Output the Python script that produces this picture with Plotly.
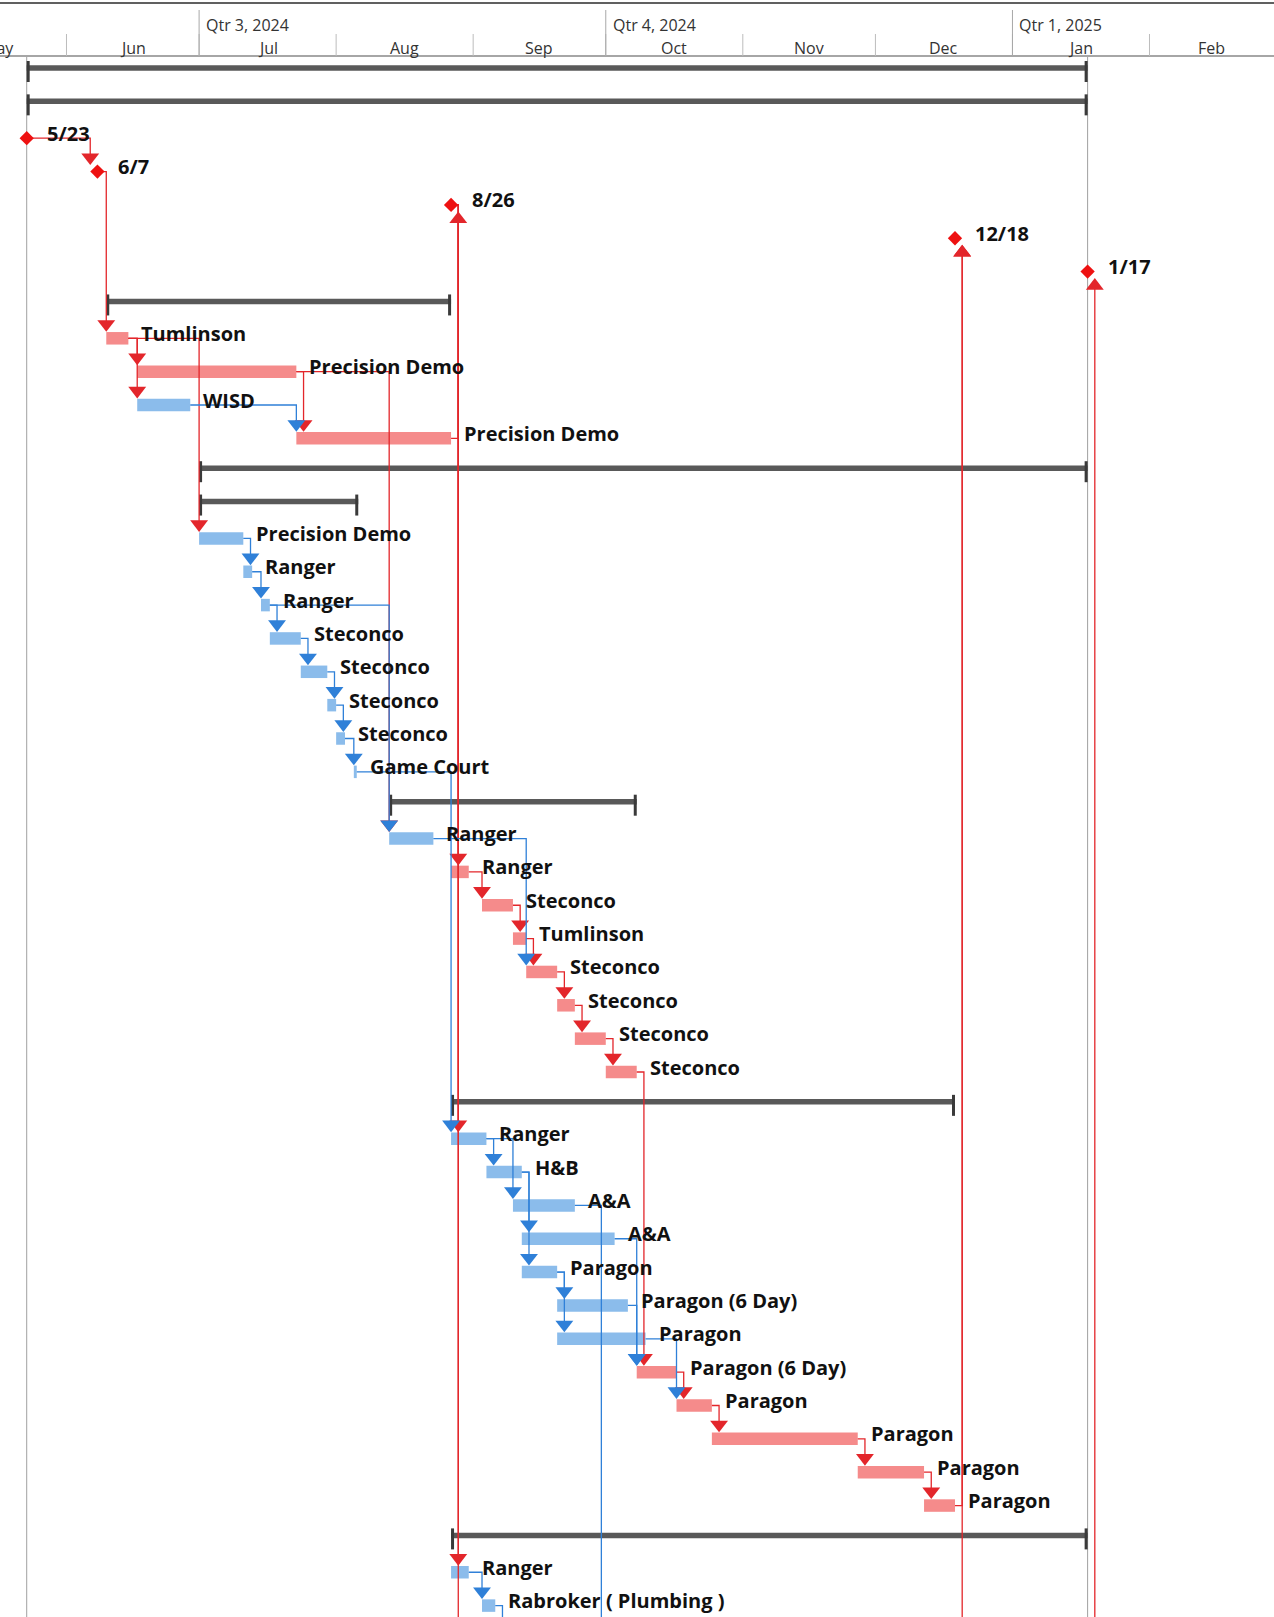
import pandas as pd
import plotly.graph_objects as go

# ---------------- data ----------------
ROWS = list(range(52))
KIND = (["S", "S", "M", "M", "M", "M", "M", "S"] + ["T"] * 4 + ["S", "S"] + ["T"] * 8 + ["S"] + ["T"] * 8
        + ["S"] + ["T"] * 12 + ["S", "T", "T"] + ["T"] * 5)
NAMES = ["", "", "5/23", "6/7", "8/26", "12/18", "1/17", "",
         "Tumlinson", "Precision Demo", "WISD", "Precision Demo", "", "",
         "Precision Demo", "Ranger", "Ranger", "Steconco", "Steconco", "Steconco", "Steconco", "Game Court", "",
         "Ranger", "Ranger", "Steconco", "Tumlinson", "Steconco", "Steconco", "Steconco", "Steconco", "",
         "Ranger", "H&B", "A&A", "A&A", "Paragon", "Paragon (6 Day)", "Paragon", "Paragon (6 Day)", "Paragon",
         "Paragon", "Paragon", "Paragon", "",
         "Ranger", "Rabroker ( Plumbing )",
         "", "", "", "", ""]
START = ["2024-05-23", "2024-05-23", "2024-05-23", "2024-06-08", "2024-08-27", "2024-12-19", "2025-01-18",
         "2024-06-10",
         "2024-06-10", "2024-06-17", "2024-06-17", "2024-07-23", "2024-07-01", "2024-07-01",
         "2024-07-01", "2024-07-11", "2024-07-15", "2024-07-17", "2024-07-24", "2024-07-30", "2024-08-01",
         "2024-08-05", "2024-08-13",
         "2024-08-13", "2024-08-27", "2024-09-03", "2024-09-10", "2024-09-13", "2024-09-20", "2024-09-24",
         "2024-10-01", "2024-08-27",
         "2024-08-27", "2024-09-04", "2024-09-10", "2024-09-12", "2024-09-12", "2024-09-20", "2024-09-20",
         "2024-10-08", "2024-10-17", "2024-10-25", "2024-11-27", "2024-12-12", "2024-08-27",
         "2024-08-27", "2024-09-03",
         "2024-09-07", "2024-09-30", "2024-08-27", "2024-12-12", "2025-01-10"]
FINISH = ["2025-01-18", "2025-01-18", "2024-05-23", "2024-06-08", "2024-08-27", "2024-12-19", "2025-01-18",
          "2024-08-27",
          "2024-06-15", "2024-07-23", "2024-06-29", "2024-08-27", "2025-01-18", "2024-08-06",
          "2024-07-11", "2024-07-13", "2024-07-17", "2024-07-24", "2024-07-30", "2024-08-01", "2024-08-03",
          "2024-08-05 16:00", "2024-10-08",
          "2024-08-23", "2024-08-31", "2024-09-10", "2024-09-13", "2024-09-20", "2024-09-24", "2024-10-01",
          "2024-10-08", "2024-12-19",
          "2024-09-04", "2024-09-12", "2024-09-24", "2024-10-03", "2024-09-20", "2024-10-06", "2024-10-10",
          "2024-10-17", "2024-10-25", "2024-11-27", "2024-12-12", "2024-12-19", "2025-01-18",
          "2024-08-31", "2024-09-06",
          "2024-09-10", "2024-10-04", "2024-08-30", "2024-12-19", "2025-01-18"]
CRITICAL = [False, False, True, True, True, True, True, False,
            True, True, False, True, False, False,
            False, False, False, False, False, False, False, False, False,
            False, True, True, True, True, True, True, True, False,
            False, False, False, False, False, False, False, True, True, True, True, True, False,
            False, False,
            False, False, True, True, True]

LINKS = [(2, 3), (3, 8), (8, 9), (8, 10), (8, 14), (9, 11), (9, 23), (11, 4), (4, 24), (4, 32), (4, 45),
         (4, 49), (24, 25), (25, 26), (26, 27), (27, 28), (28, 29), (29, 30), (30, 39), (39, 40), (40, 41),
         (41, 42), (42, 43), (43, 5), (50, 5), (51, 6),
         (10, 11), (14, 15), (15, 16), (16, 17), (17, 18), (18, 19), (19, 20), (20, 21), (16, 23), (21, 32),
         (23, 27), (32, 33), (32, 34), (33, 35), (33, 36), (34, 48), (35, 39), (36, 37), (36, 38), (37, 39),
         (38, 40), (45, 46), (46, 47)]

MONTH_STARTS = ["2024-05-01", "2024-06-01", "2024-07-01", "2024-08-01", "2024-09-01", "2024-10-01",
                "2024-11-01", "2024-12-01", "2025-01-01", "2025-02-01", "2025-03-01"]
MONTH_LABELS = ["May", "Jun", "Jul", "Aug", "Sep", "Oct", "Nov", "Dec", "Jan", "Feb"]
QTR_STARTS = ["2024-07-01", "2024-10-01", "2025-01-01"]
QTR_LABELS = ["Qtr 3, 2024", "Qtr 4, 2024", "Qtr 1, 2025"]
PROJECT_LINES = ["2024-05-23", "2025-01-18"]

# ---------------- style / layout ----------------
W, H = 1274, 1617
TOP = 57                      # header height (px)
PLOT_H = H - TOP
ROW_PX = 33.35
X_RANGE = [pd.Timestamp("2024-05-16 23:00"), pd.Timestamp("2025-03-01 04:00")]
Y_RANGE = [(H - 71.5) / ROW_PX, (TOP - 71.5) / ROW_PX]
PX_PER_DAY = W / ((X_RANGE[1] - X_RANGE[0]) / pd.Timedelta(days=1))
GAP = pd.Timedelta(days=7.2 / PX_PER_DAY)

RED_BAR, BLUE_BAR = "#F58B8B", "#8BBCEB"
RED_LINE, BLUE_LINE = "#E3262B", "#2F80D8"
SUMMARY = "#595959"
FONT = "Open Sans"


def r(px):
    return px / ROW_PX


def ypaper(px):
    return 1 + (TOP - px) / PLOT_H


def xpaper(t):
    return (pd.Timestamp(t) - X_RANGE[0]) / (X_RANGE[1] - X_RANGE[0])


S = [pd.Timestamp(s) for s in START]
F = [pd.Timestamp(f) for f in FINISH]

fig = go.Figure()

# task bars
for crit, col in [(True, RED_BAR), (False, BLUE_BAR)]:
    idx = [i for i in ROWS if KIND[i] == "T" and CRITICAL[i] == crit]
    fig.add_trace(go.Bar(
        orientation="h", y=[ROWS[i] for i in idx],
        x=[(F[i] - S[i]) / pd.Timedelta(milliseconds=1) for i in idx],
        base=[S[i] for i in idx], width=r(12.5), offset=-r(12.5) / 2,
        marker=dict(color=col, line=dict(width=0)), hoverinfo="skip", showlegend=False))

# summary bars
idx = [i for i in ROWS if KIND[i] == "S"]
fig.add_trace(go.Bar(
    orientation="h", y=[ROWS[i] for i in idx],
    x=[(F[i] - S[i]) / pd.Timedelta(milliseconds=1) for i in idx],
    base=[S[i] for i in idx], width=r(5.5), offset=-r(3.5) - r(5.5) / 2,
    marker=dict(color=SUMMARY, line=dict(width=0)), hoverinfo="skip", showlegend=False))
fig.add_trace(go.Scatter(
    x=[S[i] + pd.Timedelta(hours=8) for i in idx] + [F[i] - pd.Timedelta(hours=8) for i in idx],
    y=[ROWS[i] for i in idx] * 2, mode="markers",
    marker=dict(symbol="line-ns", size=15, line=dict(width=3, color="#3a3a3a")),
    hoverinfo="skip", showlegend=False))

# links
ARROW = 15.5
for crit, col in [(True, RED_LINE), (False, BLUE_LINE)]:
    lx, ly, ax_d, ay_d, ax_u, ay_u = [], [], [], [], [], []
    for p, s in LINKS:
        if CRITICAL[p] != crit:
            continue
        x0 = F[p]
        xs = S[s] - GAP if KIND[s] == "M" else S[s]
        xl = max(x0 + GAP, xs)
        if s > p:
            ye = ROWS[s] - r(6.5 + ARROW / 2)
            ax_d.append(xl); ay_d.append(ye)
        else:
            ye = ROWS[s] + r(6.5 + ARROW / 2)
            ax_u.append(xl); ay_u.append(ye)
        lx += [x0, xl, xl, None]
        ly += [ROWS[p], ROWS[p], ye, None]
    fig.add_trace(go.Scatter(x=lx, y=ly, mode="lines", line=dict(color=col, width=1.3),
                             hoverinfo="skip", showlegend=False))
    fig.add_trace(go.Scatter(x=ax_d, y=ay_d, mode="markers",
                             marker=dict(symbol="triangle-down", size=ARROW, color=col, line=dict(width=0)),
                             hoverinfo="skip", showlegend=False))
    fig.add_trace(go.Scatter(x=ax_u, y=ay_u, mode="markers",
                             marker=dict(symbol="triangle-up", size=ARROW, color=col, line=dict(width=0)),
                             hoverinfo="skip", showlegend=False))

# milestones
idx = [i for i in ROWS if KIND[i] == "M"]
fig.add_trace(go.Scatter(x=[S[i] for i in idx], y=[ROWS[i] for i in idx], mode="markers",
                         marker=dict(symbol="diamond", size=11, color="#EE1111", line=dict(width=0)),
                         hoverinfo="skip", showlegend=False))

# labels
ann = []
for i in ROWS:
    if NAMES[i] and KIND[i] != "S":
        ann.append(dict(x=F[i], y=ROWS[i], xref="x", yref="y", text="<b>" + NAMES[i] + "</b>",
                        showarrow=False, xanchor="left", yanchor="middle",
                        xshift=18.5 if KIND[i] == "M" else 11, yshift=5,
                        font=dict(family=FONT, size=20, color="#111111")))

# header
shapes = []
shapes.append(dict(type="line", xref="paper", yref="paper", x0=0, x1=1, y0=ypaper(3), y1=ypaper(3),
                   line=dict(color="#2b2b2b", width=1.5)))
shapes.append(dict(type="line", xref="paper", yref="paper", x0=0, x1=1, y0=ypaper(56), y1=ypaper(56),
                   line=dict(color="#A6A6A6", width=2)))
for m in MONTH_STARTS[1:-1]:
    shapes.append(dict(type="line", xref="x", yref="paper", x0=m, x1=m, y0=ypaper(34), y1=ypaper(56),
                       line=dict(color="#BDBDBD", width=1)))
for q in QTR_STARTS:
    shapes.append(dict(type="line", xref="x", yref="paper", x0=q, x1=q, y0=ypaper(10), y1=ypaper(56),
                       line=dict(color="#A8A8A8", width=1)))
for d in PROJECT_LINES:
    shapes.append(dict(type="line", xref="x", yref="paper", x0=d, x1=d, y0=0, y1=ypaper(57),
                       line=dict(color="#A0A0A0", width=1), layer="below"))
for k, lab in enumerate(MONTH_LABELS):
    mid = pd.Timestamp(MONTH_STARTS[k]) + (pd.Timestamp(MONTH_STARTS[k + 1]) - pd.Timestamp(MONTH_STARTS[k])) / 2
    ann.append(dict(x=xpaper(mid), y=ypaper(47.5), xref="paper", yref="paper", text=lab, showarrow=False,
                    xanchor="center", yanchor="middle", font=dict(family=FONT, size=16, color="#333333")))
for q, lab in zip(QTR_STARTS, QTR_LABELS):
    ann.append(dict(x=xpaper(q), y=ypaper(25), xref="paper", yref="paper", text=lab, showarrow=False,
                    xanchor="left", yanchor="middle", xshift=5, font=dict(family=FONT, size=16, color="#333333")))

fig.update_layout(
    width=W, height=H, margin=dict(l=0, r=0, t=TOP, b=0),
    paper_bgcolor="white", plot_bgcolor="white", barmode="overlay",
    xaxis=dict(type="date", range=X_RANGE, showgrid=False, showticklabels=False, zeroline=False,
               showline=False, ticks=""),
    yaxis=dict(range=Y_RANGE, showgrid=False, showticklabels=False, zeroline=False, showline=False, ticks=""),
    shapes=shapes, annotations=ann, showlegend=False)

fig.write_html("out.html")
